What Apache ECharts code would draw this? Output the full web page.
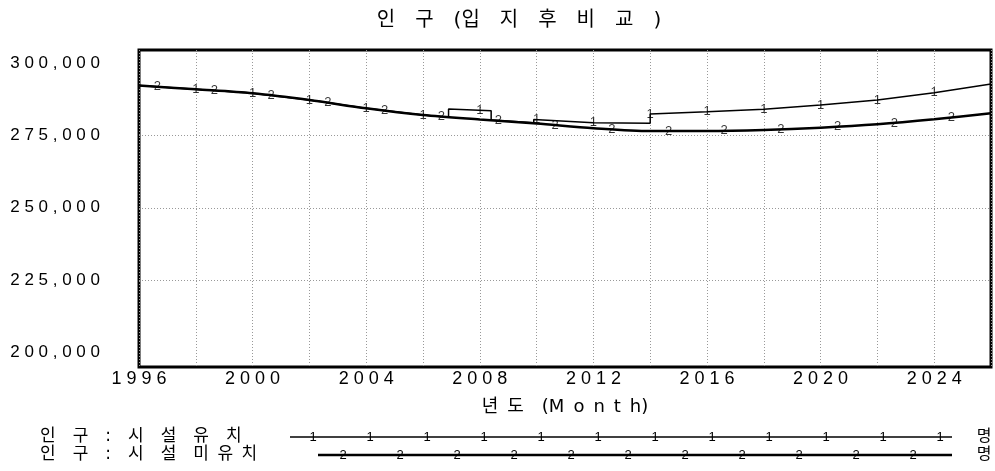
<!DOCTYPE html>
<html><head><meta charset="utf-8">
<script src="https://cdn.jsdelivr.net/npm/echarts@6/dist/echarts.min.js"></script>
<style>html,body{margin:0;padding:0;background:#fff}#c{width:995px;height:471px}</style>
</head><body><div id="c"></div>
<script>
// ---- data ----
const chartTitle = '인\u2003구\u2003(입\u2003지\u2003후\u2003비\u2003교\u2003)';
const xAxisName = '년\u2002도\u2002\u2002(M\u2002o\u2002n\u2002t\u2002h)';
const yTickLabels = [200000, 225000, 250000, 275000, 300000];
const xTickYears = [1996, 2000, 2004, 2008, 2012, 2016, 2020, 2024];
const gridValues = [225000, 250000, 275000];
const seriesNames = ['인구 : 시설 유치', '인구 : 시설 미유치'];
const legendLabels = [
  '인\u2003구\u2003:\u2003시\u2003설\u2003유\u2003치',
  '인\u2003구\u2003:\u2003시\u2003설\u2003미\u2002유\u2002치'
];
const unitLabel = '명';

// 인구 : 시설 유치 (series 1)
const withFacility = [
  [1996, 292230], [1998, 290920], [2000, 289540], [2002, 287220], [2004, 284360],
  [2006, 282040], [2006.9, 281300], [2006.9, 284100], [2008.4, 283550], [2008.4, 280300],
  [2009.9, 279400], [2009.9, 280500], [2012, 279400], [2014, 279170], [2014, 282390],
  [2016, 283180], [2018, 284010], [2020, 285500], [2022, 287220], [2024, 289740], [2026, 292750]
];
// 인구 : 시설 미유치 (series 2)
const withoutFacility = [
  [1996, 292230], [1998, 290920], [2000, 289540], [2002, 287220], [2004, 284360],
  [2006, 282040], [2008, 280500], [2010, 279100], [2012, 277500], [2014, 276500],
  [2016, 276500], [2018, 276860], [2020, 277650], [2022, 278830], [2024, 280560], [2026, 282630]
];
// line identifiers drawn along each curve
const markers1 = [
  [1998, 290920], [2000, 289540], [2002, 287220], [2004, 284360], [2006, 282040],
  [2008, 283700], [2010, 280450], [2012, 279400], [2014, 282390], [2016, 283180],
  [2018, 284010], [2020, 285500], [2022, 287220], [2024, 289740]
];
const markers2 = [
  [1996.65, 291800], [1998.65, 290500], [2000.65, 288800], [2002.65, 286300], [2004.65, 283600],
  [2006.65, 281400], [2008.65, 280100], [2010.65, 278600], [2012.65, 277000], [2014.65, 276400],
  [2016.6, 276600], [2018.6, 277100], [2020.6, 277950], [2022.6, 279300], [2024.6, 281100]
];

// ---- chart ----
const FONT = '"Liberation Sans", "Noto Sans CJK KR", sans-serif';
const KFONT = '"DejaVu Sans", "Noto Sans CJK KR", sans-serif';
function spaced(s) { return s.split('').join(' '); }

const chart = echarts.init(document.getElementById('c'), null, {renderer: 'canvas'});

// legend graphics
const legendGraphics = [];
const legendRowsY = [437, 455];
const legendLineX = [[290, 952], [318, 952]];
const legendMarks = ['1', '2'];
legendRowsY.forEach((y, i) => {
  legendGraphics.push({
    type: 'text', x: 40, y: y,
    style: {text: legendLabels[i], font: '17px ' + KFONT, fill: '#000', verticalAlign: 'middle'}
  });
  legendGraphics.push({
    type: 'line', shape: {x1: legendLineX[i][0], y1: y, x2: legendLineX[i][1], y2: y},
    style: {stroke: '#000', lineWidth: i === 0 ? 1.5 : 2.5}
  });
  const start = i === 0 ? 313 : 343;
  for (let x = start; x <= legendLineX[i][1] + 1; x += 57) {
    legendGraphics.push({
      type: 'text', x: x, y: y,
      style: {text: legendMarks[i], font: '13px ' + FONT, fill: '#000', align: 'center', verticalAlign: 'middle'}
    });
  }
  legendGraphics.push({
    type: 'text', x: 984, y: y,
    style: {text: unitLabel, font: '16px ' + KFONT, fill: '#000', align: 'center', verticalAlign: 'middle'}
  });
});

const markerLabel = (t) => ({
  show: true, position: 'inside', formatter: t, fontSize: 13, fontFamily: FONT, color: '#000'
});

const option = {
  backgroundColor: '#fff',
  animation: false,
  graphic: [
    {type: 'text', x: 519, y: 21,
     style: {text: chartTitle, font: '20px ' + KFONT, fill: '#000', align: 'center', verticalAlign: 'middle'}}
  ].concat(legendGraphics),
  grid: {left: 139, right: 4, top: 50, bottom: 104, show: true, borderColor: '#000', borderWidth: 3, backgroundColor: 'transparent'},
  xAxis: {
    type: 'value', min: 1996, max: 2026, interval: 2,
    name: xAxisName, nameLocation: 'middle', nameGap: 31,
    nameTextStyle: {fontSize: 18, fontFamily: KFONT, color: '#000'},
    axisLine: {show: false}, axisTick: {show: false},
    axisLabel: {
      margin: 3, fontSize: 18, fontFamily: FONT, color: '#000',
      formatter: v => xTickYears.includes(v) ? spaced(String(v)) : ''
    },
    splitLine: {show: true, lineStyle: {color: '#999', type: [1, 2], width: 1}}
  },
  yAxis: {
    type: 'value', min: 195000, max: 304500, interval: 5000,
    axisLine: {show: false}, axisTick: {show: false},
    axisLabel: {
      margin: 39, fontSize: 17, fontFamily: FONT, color: '#000',
      formatter: v => yTickLabels.includes(v) ? spaced(v.toLocaleString('en-US')) : ''
    },
    splitLine: {show: false}
  },
  series: [
    {
      name: seriesNames[0], type: 'line', data: withFacility, showSymbol: false, symbol: 'none',
      lineStyle: {color: '#000', width: 1.5}, z: 3
    },
    {
      name: seriesNames[1], type: 'line', data: withoutFacility, showSymbol: false, symbol: 'none',
      smooth: 0.3,
      lineStyle: {color: '#000', width: 2.5}, z: 2,
      markLine: {
        silent: true, symbol: 'none', label: {show: false},
        lineStyle: {color: '#999', type: [1, 2], width: 1},
        data: gridValues.map(v => ({yAxis: v}))
      }
    },
    {
      type: 'scatter', data: markers1, symbol: 'circle', symbolSize: 1,
      itemStyle: {color: 'rgba(0,0,0,0)'}, z: 5, label: markerLabel('1')
    },
    {
      type: 'scatter', data: markers2, symbol: 'circle', symbolSize: 1,
      itemStyle: {color: 'rgba(0,0,0,0)'}, z: 5, label: markerLabel('2')
    }
  ]
};
chart.setOption(option);
</script>
</body></html>
